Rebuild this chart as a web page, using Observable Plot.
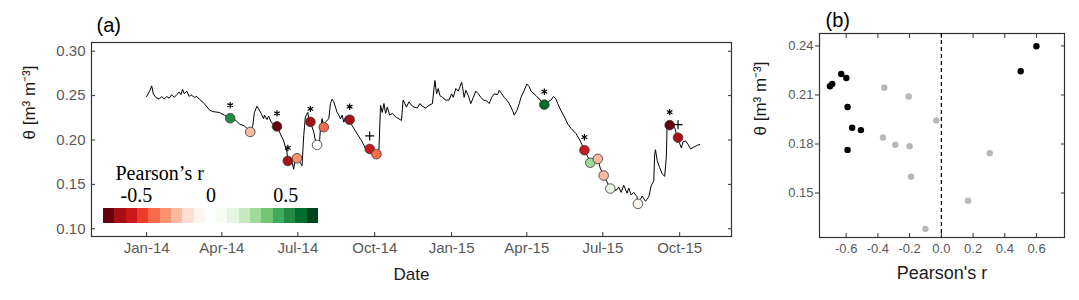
<!DOCTYPE html>
<html>
<head>
<meta charset="utf-8">
<script src="https://cdn.jsdelivr.net/npm/d3@7"></script>
<script src="https://cdn.jsdelivr.net/npm/@observablehq/plot@0.6"></script>
<style>
html, body { margin: 0; padding: 0; background: #fff; }
#wrap { position: relative; width: 1079px; height: 300px; overflow: hidden; background: #fff; }
#wrap > svg { position: absolute; }
</style>
</head>
<body>
<div id="wrap"></div>
<script>
// ---- soil moisture time series (panel a) ----
const lineDates = [
"2014-01-01","2014-01-05","2014-01-07","2014-01-09","2014-01-12","2014-01-16","2014-01-19","2014-01-22","2014-01-25","2014-01-28",
"2014-01-31","2014-02-03","2014-02-06","2014-02-09","2014-02-11","2014-02-13","2014-02-15","2014-02-18","2014-02-21","2014-02-23",
"2014-02-27","2014-03-02","2014-03-05","2014-03-11","2014-03-17","2014-03-21","2014-03-29","2014-04-04","2014-04-11","2014-04-18",
"2014-04-22","2014-04-28","2014-05-05","2014-05-08","2014-05-10","2014-05-13","2014-05-15","2014-05-18","2014-05-21","2014-05-22",
"2014-05-25","2014-05-27","2014-05-30","2014-06-06","2014-06-10","2014-06-14","2014-06-18","2014-06-19","2014-06-24","2014-06-26",
"2014-06-28","2014-06-30","2014-07-04","2014-07-06","2014-07-08","2014-07-10","2014-07-13","2014-07-14","2014-07-16","2014-07-20",
"2014-07-22","2014-07-24","2014-07-27","2014-07-28","2014-07-30","2014-08-01","2014-08-03","2014-08-07","2014-08-09","2014-08-11",
"2014-08-13","2014-08-15","2014-08-17","2014-08-19","2014-08-21","2014-08-23","2014-08-25","2014-08-27","2014-09-01","2014-09-04",
"2014-09-10","2014-09-16","2014-09-20","2014-09-25","2014-09-28","2014-10-03","2014-10-06","2014-10-07","2014-10-08","2014-10-10",
"2014-10-12","2014-10-14","2014-10-16","2014-10-19","2014-10-22","2014-10-26","2014-11-02","2014-11-04","2014-11-06","2014-11-08",
"2014-11-11","2014-11-14","2014-11-17","2014-11-21","2014-11-24","2014-11-27","2014-12-01","2014-12-05","2014-12-09","2014-12-12",
"2014-12-14","2014-12-16","2014-12-18","2014-12-21","2014-12-25","2014-12-29","2015-01-01","2015-01-03","2015-01-06","2015-01-09",
"2015-01-11","2015-01-13","2015-01-14","2015-01-16","2015-01-18","2015-01-21","2015-01-24","2015-01-27","2015-01-30","2015-02-02",
"2015-02-05","2015-02-08","2015-02-12","2015-02-15","2015-02-18","2015-02-21","2015-02-25","2015-02-27","2015-03-02","2015-03-05",
"2015-03-08","2015-03-11","2015-03-15","2015-03-17","2015-03-20","2015-03-23","2015-03-25","2015-03-29","2015-04-01","2015-04-04",
"2015-04-06","2015-04-12","2015-04-17","2015-04-22","2015-04-26","2015-04-30","2015-05-03","2015-05-06","2015-05-08","2015-05-12",
"2015-05-16","2015-05-20","2015-05-24","2015-05-30","2015-06-04","2015-06-09","2015-06-13","2015-06-16","2015-06-20","2015-06-25",
"2015-06-28","2015-07-02","2015-07-06","2015-07-10","2015-07-14","2015-07-18","2015-07-20","2015-07-23","2015-07-26","2015-07-30",
"2015-08-01","2015-08-04","2015-08-07","2015-08-11","2015-08-12","2015-08-15","2015-08-17","2015-08-21","2015-08-25","2015-08-28",
"2015-08-31","2015-09-01","2015-09-02","2015-09-04","2015-09-07","2015-09-10","2015-09-13","2015-09-15","2015-09-16","2015-09-19",
"2015-09-22","2015-09-25","2015-09-27","2015-09-29","2015-10-01","2015-10-03","2015-10-05","2015-10-08","2015-10-11","2015-10-14",
"2015-10-18","2015-10-22","2015-10-25"
];
const lineTheta = [
0.249,0.256,0.261,0.252,0.248,0.246,0.249,0.246,0.249,0.247,
0.251,0.248,0.251,0.254,0.251,0.257,0.252,0.255,0.249,0.251,
0.248,0.249,0.246,0.241,0.234,0.232,0.231,0.228,0.2245,0.222,
0.218,0.216,0.2091,0.216,0.231,0.238,0.235,0.230,0.224,0.228,
0.223,0.227,0.220,0.2153,0.207,0.199,0.186,0.1764,0.175,0.167,
0.179,0.1795,0.174,0.171,0.205,0.226,0.231,0.224,0.2204,0.209,
0.199,0.1944,0.199,0.213,0.224,0.2144,0.220,0.224,0.241,0.246,
0.243,0.237,0.231,0.228,0.224,0.228,0.220,0.226,0.2228,0.216,
0.207,0.198,0.190,0.1899,0.187,0.1840,0.188,0.216,0.239,0.231,
0.241,0.230,0.237,0.228,0.230,0.226,0.222,0.245,0.241,0.237,
0.243,0.239,0.237,0.236,0.241,0.238,0.236,0.239,0.241,0.267,
0.252,0.258,0.250,0.248,0.245,0.245,0.252,0.248,0.258,0.255,
0.260,0.265,0.260,0.248,0.256,0.250,0.241,0.248,0.255,0.252,
0.248,0.245,0.244,0.241,0.248,0.252,0.251,0.256,0.252,0.248,
0.245,0.241,0.233,0.228,0.233,0.241,0.248,0.256,0.263,0.260,
0.255,0.250,0.245,0.2398,0.243,0.245,0.249,0.246,0.241,0.233,
0.226,0.218,0.213,0.207,0.199,0.1885,0.181,0.1744,0.174,0.1787,
0.168,0.1600,0.153,0.1453,0.143,0.144,0.147,0.141,0.149,0.140,
0.146,0.138,0.141,0.136,0.1281,0.133,0.137,0.131,0.136,0.149,
0.154,0.183,0.189,0.177,0.169,0.162,0.159,0.181,0.218,0.2167,
0.218,0.214,0.207,0.2026,0.196,0.191,0.198,0.199,0.195,0.190,
0.192,0.194,0.195
];

// ---- rainfall events: date, theta at event, Pearson's r, significance ----
const eventDates = [
"2014-04-11","2014-05-05","2014-06-06","2014-06-19","2014-06-30","2014-07-16","2014-07-24","2014-08-01","2014-09-01","2014-09-25",
"2014-10-03","2015-04-22","2015-06-09","2015-06-16","2015-06-25","2015-07-02","2015-07-10","2015-08-12","2015-09-19","2015-09-29"
];
const eventTheta = [
0.2245,0.2091,0.2153,0.1764,0.1795,0.2204,0.1944,0.2144,0.2228,0.1899,
0.1840,0.2398,0.1885,0.1744,0.1787,0.1600,0.1453,0.1281,0.2167,0.2026
];
const eventR = [
0.50,-0.206,-0.702,-0.591,-0.290,-0.599,-0.032,-0.360,-0.631,-0.562,
-0.368,0.599,-0.507,0.305,-0.200,-0.191,0.168,-0.101,-0.688,-0.591
];
const eventSig = [
"*","","*","*","","*","","","*","+",
"","*","*","","","","","","*","+"
];

// ---- scales / ticks ----
const legendColors = [
"#67000d","#a50f15","#cb181d","#ef3b2c","#fb6a4a","#fc9272","#fcbba1","#fee0d2","#fff5f0",
"#ffffff",
"#f7fcf5","#e5f5e0","#c7e9c0","#a1d99b","#74c476","#41ab5d","#238b45","#006d2c","#00441b"
];
const rExtent = [-0.72, 0.72];
const legendLabelValues = [-0.5, 0, 0.5];
const legendLabelTexts = ["-0.5", "0", "0.5"];
const xTickDates = ["2014-01-01","2014-04-01","2014-07-01","2014-10-01","2015-01-01","2015-04-01","2015-07-01","2015-10-01"];
const yTicksA = [0.10, 0.15, 0.20, 0.25, 0.30];
const xTicksB = [-0.6, -0.4, -0.2, 0.0, 0.2, 0.4, 0.6];
const yTicksB = [0.15, 0.18, 0.21, 0.24];

// ---- build tables ----
const series = lineDates.map((d, i) => ({date: new Date(d), theta: lineTheta[i]}));
const events = eventDates.map((d, i) => ({date: new Date(d), theta: eventTheta[i], r: eventR[i], sig: eventSig[i]}));
const nBins = legendColors.length;
const binW = (rExtent[1] - rExtent[0]) / nBins;
const thresholds = d3.range(1, nBins).map(i => rExtent[0] + i * binW);
const legendBins = legendColors.map((c, i) => ({x1: rExtent[0] + i * binW, x2: rExtent[0] + (i + 1) * binW, c}));
const legendLabels = legendLabelValues.map((v, i) => ({v, t: legendLabelTexts[i]}));
const xTicks = xTickDates.map(d => new Date(d));

const sans = "'Liberation Sans', Arial, sans-serif";
const serif = "'Liberation Serif', 'Times New Roman', serif";
const titleColor = "#1b1b1b";
const tickColor = "#595959";
const frameColor = "#333";
const thetaLabel = "θ [m³ m⁻³]";

// ---- panel (a) ----
const plotA = Plot.plot({
  width: 740, height: 300,
  marginLeft: 91, marginRight: 9, marginTop: 42, marginBottom: 64,
  style: {fontFamily: sans, fontSize: "15px", color: tickColor, background: "transparent", overflow: "visible"},
  x: {type: "utc", domain: [new Date("2013-10-27"), new Date("2015-12-02")], label: null},
  y: {domain: [0.0913, 0.3098], label: null},
  color: {type: "threshold", domain: thresholds, range: legendColors},
  marks: [
    Plot.axisY(yTicksA, {tickSize: 0, tickPadding: 6, tickFormat: d => d.toFixed(2), label: null}),
    Plot.axisY(yTicksA, {tickSize: -4, fill: "none", stroke: frameColor, label: null}),
    Plot.axisY(yTicksA, {anchor: "right", tickSize: -4, fill: "none", stroke: frameColor, label: null}),
    Plot.axisX(xTicks, {tickSize: 0, tickPadding: 6, tickFormat: d3.utcFormat("%b-%y"), label: null}),
    Plot.axisX(xTicks, {tickSize: -4, fill: "none", stroke: frameColor, label: null}),
    Plot.frame({stroke: frameColor, strokeWidth: 1.2}),
    Plot.line(series, {x: "date", y: "theta", stroke: "#000", strokeWidth: 1}),
    Plot.dot(events, {x: "date", y: "theta", r: 4.8, fill: "r", stroke: "#333", strokeWidth: 0.8}),
    Plot.dot(events.filter(d => d.sig === "*"), {x: "date", y: "theta", symbol: "asterisk", r: 3, dy: -13, stroke: "#000", strokeWidth: 1.2}),
    Plot.dot(events.filter(d => d.sig === "+"), {x: "date", y: "theta", symbol: "plus", r: 3, dy: -13, stroke: "#000", strokeWidth: 1.2}),
    Plot.text(["Date"], {text: d => d, frameAnchor: "bottom", lineAnchor: "middle", dy: 38, fontSize: 17, fill: titleColor, fontFamily: sans}),
    Plot.text([thetaLabel], {text: d => d, frameAnchor: "left", lineAnchor: "middle", rotate: -90, dx: -62, fontSize: 17, fill: titleColor, fontFamily: sans}),
    Plot.text(["(a)"], {text: d => d, frameAnchor: "top-left", lineAnchor: "middle", textAnchor: "start", dx: 5, dy: -17, fontSize: 20, fill: "#000", fontFamily: sans})
  ]
});

// ---- panel (b) ----
const plotB = Plot.plot({
  width: 339, height: 300,
  marginLeft: 79, marginRight: 15, marginTop: 33, marginBottom: 63,
  style: {fontFamily: sans, fontSize: "13px", color: tickColor, background: "transparent", overflow: "visible"},
  x: {domain: [-0.768, 0.776], label: null},
  y: {domain: [0.1228, 0.2476], label: null},
  marks: [
    Plot.axisX(xTicksB, {tickSize: 0, tickPadding: 6, tickFormat: d => d.toFixed(1), label: null}),
    Plot.axisX(xTicksB, {tickSize: -4, fill: "none", stroke: frameColor, label: null}),
    Plot.axisX(xTicksB, {anchor: "top", tickSize: -4, fill: "none", stroke: frameColor, label: null}),
    Plot.axisY(yTicksB, {tickSize: 4, tickPadding: 2, stroke: frameColor, tickFormat: d => d.toFixed(2), label: null}),
    Plot.axisY(yTicksB, {anchor: "right", tickSize: -4, fill: "none", stroke: frameColor, label: null}),
    Plot.frame({stroke: frameColor, strokeWidth: 1.2}),
    Plot.ruleX([0], {stroke: "#000", strokeWidth: 1.2, strokeDasharray: "4,3"}),
    Plot.dot(events.filter(d => !d.sig), {x: "r", y: "theta", r: 3.2, fill: "#b8b8b8"}),
    Plot.dot(events.filter(d => d.sig), {x: "r", y: "theta", r: 3.2, fill: "#000"}),
    Plot.text(["Pearson's r"], {text: d => d, frameAnchor: "bottom", lineAnchor: "middle", dy: 36, fontSize: 18, fill: titleColor, fontFamily: sans}),
    Plot.text([thetaLabel], {text: d => d, frameAnchor: "left", lineAnchor: "middle", rotate: -90, dx: -59, fontSize: 17, fill: titleColor, fontFamily: sans}),
    Plot.text(["(b)"], {text: d => d, frameAnchor: "top-left", lineAnchor: "middle", textAnchor: "start", dx: 6, dy: -13, fontSize: 20, fill: "#000", fontFamily: sans})
  ]
});

// ---- colour legend (inside panel a) ----
const legend = Plot.plot({
  width: 215, height: 72,
  marginLeft: 0, marginRight: 0, marginTop: 48, marginBottom: 9,
  style: {background: "transparent", overflow: "visible"},
  x: {domain: rExtent, axis: null},
  color: {type: "identity"},
  marks: [
    Plot.rect(legendBins, {x1: "x1", x2: "x2", fill: "c", shapeRendering: "crispEdges"}),
    Plot.text(legendLabels, {x: "v", text: "t", frameAnchor: "top", lineAnchor: "middle", dy: -13, fontSize: 20, fill: "#000", fontFamily: serif}),
    Plot.text(["Pearson\u2019s r"], {text: d => d, frameAnchor: "top-left", lineAnchor: "middle", textAnchor: "start", dx: 12, dy: -35, fontSize: 20, fill: "#000", fontFamily: serif})
  ]
});

const wrap = document.getElementById("wrap");
plotA.style.left = "0px"; plotA.style.top = "0px";
plotB.style.left = "740px"; plotB.style.top = "0px";
legend.style.left = "103px"; legend.style.top = "160px";
wrap.append(plotA, plotB, legend);
</script>
</body>
</html>
